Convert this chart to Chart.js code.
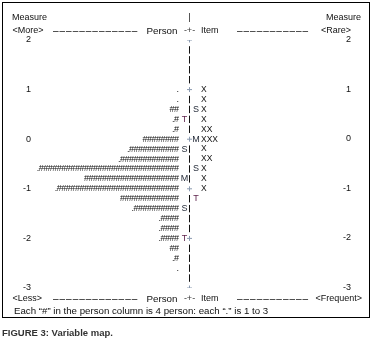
<!DOCTYPE html>
<html><head><meta charset="utf-8">
<script src="https://cdn.jsdelivr.net/npm/chart.js@4"></script>
<style>
html,body{margin:0;padding:0;background:#fff;}
#wrap{position:relative;width:375px;height:344px;overflow:hidden;}
canvas{position:absolute;left:0;top:0;}
#cap{position:absolute;left:2px;top:327px;font:bold 9.5px "Liberation Sans",Arial,sans-serif;color:#333;white-space:nowrap;line-height:12px;}
</style></head><body>
<div id="wrap"><canvas id="c" width="375" height="344"></canvas><div id="cap">FIGURE 3: Variable map.</div></div>
<script>
// ---- data ----
const measureTicks = [2, 1, 0, -1, -2, -3];
const rowMeasures  = [1.0, 0.8, 0.6, 0.4, 0.2, 0.0, -0.2, -0.4, -0.6, -0.8, -1.0, -1.2, -1.4, -1.6, -1.8, -2.0, -2.2, -2.4, -2.6];
const personHashes = [0, 0, 2, 1, 1, 8, 11, 13, 31, 21, 27, 13, 10, 4, 4, 4, 2, 1, 0];
const personDots   = [1, 1, 0, 1, 1, 0, 1, 1, 1, 0, 1, 0, 1, 1, 1, 1, 0, 1, 1];
const itemCounts   = [1, 1, 1, 1, 2, 3, 1, 2, 1, 1, 1, 0, 0, 0, 0, 0, 0, 0, 0];
const personMarkLabels = ['T', 'S', 'M', 'S', 'T'];
const personMarkValues = [0.4, -0.2, -0.8, -1.4, -2.0];
const itemMarkLabels = ['S', 'M', 'S', 'T'];
const itemMarkValues = [0.6, 0.0, -0.6, -1.2];
const topLabels = ['<More>', 'Person', 'Item', '<Rare>'];
const bottomLabels = ['<Less>', 'Person', 'Item', '<Frequent>'];
const axisTitle = 'Measure';
const footnote = 'Each \u201C#\u201D in the person column is 4 person: each \u201C.\u201D is 1 to 3';

const FONT = '"Liberation Sans", Arial, sans-serif';
const INK = '#111';

const mapText = {
  id: 'mapText',
  beforeDraw(chart) {
    const ctx = chart.ctx;
    ctx.save();
    ctx.strokeStyle = '#000';
    ctx.lineWidth = 1;
    ctx.strokeRect(2.5, 2.5, 367, 315);
    ctx.restore();
  },
  afterDatasetsDraw(chart) {
    const { ctx, scales: { x, y } } = chart;
    const cx = x.getPixelForValue(0);
    const yTop = y.getPixelForValue(2);
    const yBot = y.getPixelForValue(-3);
    ctx.save();
    ctx.textBaseline = 'middle';
    ctx.fillStyle = INK;

    // measure numbers on the right side, placed by the y scale
    ctx.font = '9px ' + FONT;
    ctx.textAlign = 'right';
    measureTicks.forEach(v => {
      ctx.fillText(String(v), 351, Math.round(y.getPixelForValue(v)));
    });

    // person distribution
    ctx.font = '9px ' + FONT;
    ctx.letterSpacing = '-0.5px';
    ctx.textAlign = 'right';
    rowMeasures.forEach((m, i) => {
      const s = (personDots[i] ? '.' : '') + '#'.repeat(personHashes[i]);
      if (s) ctx.fillText(s, cx - 11, y.getPixelForValue(m));
    });
    ctx.letterSpacing = '0px';

    // items
    ctx.font = '8.5px ' + FONT;
    ctx.textAlign = 'left';
    rowMeasures.forEach((m, i) => {
      if (itemCounts[i]) ctx.fillText('X'.repeat(itemCounts[i]), cx + 11.5, y.getPixelForValue(m));
    });

    // M / S / T markers
    ctx.font = '9px ' + FONT;
    ctx.textAlign = 'center';
    const markColor = l => (l === 'T' ? '#5a1f48' : '#1e2533');
    personMarkLabels.forEach((l, i) => {
      ctx.fillStyle = markColor(l);
      ctx.fillText(l, cx - 5, y.getPixelForValue(personMarkValues[i]));
    });
    itemMarkLabels.forEach((l, i) => {
      ctx.fillStyle = markColor(l);
      ctx.fillText(l, cx + 6.5, y.getPixelForValue(itemMarkValues[i]));
    });

    // header / footer rows
    ctx.fillStyle = INK;
    ctx.font = '9px ' + FONT;
    const rowH = yTop - 9, rowM = yTop - 22;
    const rowB = yBot + 11, rowF = yBot + 23;
    ctx.textAlign = 'left';
    ctx.fillText(axisTitle, 12, rowM);
    ctx.textAlign = 'right';
    ctx.fillText(axisTitle, 361, rowM);
    ctx.textAlign = 'center';
    ctx.fillText('|', cx, rowM);

    const drawHeader = (labels, yy) => {
      ctx.textAlign = 'left';
      ctx.fillStyle = INK;
      ctx.font = '9px ' + FONT;
      ctx.fillText(labels[0], 12.5, yy);
      ctx.textAlign = 'right';
      ctx.fillText(labels[3], labels[3].length > 6 ? 362 : 351, yy);
      ctx.textAlign = 'left';
      ctx.fillText(labels[2], cx + 11.5, yy);
      ctx.font = '9.8px ' + FONT;
      ctx.textAlign = 'right';
      ctx.fillText(labels[1], cx - 12, yy);
      ctx.font = '9px ' + FONT;
      ctx.textAlign = 'center';
      ctx.fillStyle = '#3a3a3a';
      ctx.fillText('-+-', cx, yy);
      // dash runs
      ctx.fillStyle = INK;
      ctx.font = '10px ' + FONT;
      ctx.letterSpacing = '1px';
      ctx.textAlign = 'left';
      ctx.fillText('\u2013'.repeat(13), 53, yy);
      ctx.fillText('\u2013'.repeat(11), 237, yy);
      ctx.letterSpacing = '0px';
      ctx.font = '9px ' + FONT;
    };
    drawHeader(topLabels, rowH);
    drawHeader(bottomLabels, rowB);

    ctx.textAlign = 'left';
    ctx.fillStyle = INK;
    ctx.font = '9.7px ' + FONT;
    ctx.fillText(footnote, 14, rowF);
    ctx.restore();
  }
};

new Chart(document.getElementById('c'), {
  type: 'scatter',
  data: {
    datasets: [{
      data: measureTicks.map(v => ({ x: 0, y: v })),
      showLine: true,
      borderColor: '#111',
      borderWidth: 1,
      borderDash: [7.42, 2.5, 7.42, 2.5, 7.42, 2.5, 7.42, 12.42],
      borderDashOffset: 43.39,
      pointStyle: 'cross',
      pointRadius: 2.5,
      pointBorderWidth: 1,
      pointBorderColor: '#8a9ab0',
      fill: false
    }]
  },
  options: {
    responsive: false,
    animation: false,
    devicePixelRatio: 1,
    layout: { padding: { top: 40, bottom: 56, left: 0, right: 24 } },
    plugins: { legend: { display: false }, tooltip: { enabled: false } },
    scales: {
      x: { type: 'linear', min: -1, max: 1, display: false },
      y: {
        type: 'linear', position: 'left', min: -3, max: 2,
        afterFit: s => { s.width = 33; },
        afterBuildTicks: s => { s.ticks = measureTicks.map(v => ({ value: v })); },
        grid: { display: false, drawTicks: false },
        border: { display: false },
        ticks: { padding: 2, color: INK, font: { size: 9, family: FONT } }
      },
      y2: {
        type: 'linear', position: 'right', min: -3, max: 2,
        afterFit: s => { s.width = 5; },
        grid: { display: false, drawTicks: false },
        border: { display: false },
        ticks: { display: false }
      }
    }
  },
  plugins: [mapText]
});
</script>
</body></html>
